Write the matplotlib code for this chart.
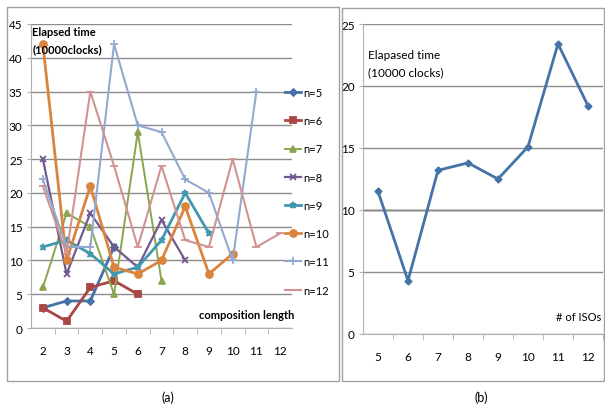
import matplotlib
matplotlib.use("Agg")
import matplotlib.pyplot as plt
from matplotlib.patches import Rectangle

# -----------------------------
# Data
# -----------------------------
comp_len = [2, 3, 4, 5, 6, 7, 8, 9, 10, 11, 12]
n5 = [3, 4, 4, 12]
n6 = [3, 1, 6, 7, 5]
n7 = [6, 17, 15, 5, 29, 7]
n8 = [25, 8, 17, 12, 9, 16, 10]
n9 = [12, 13, 11, 8, 9, 13, 20, 14]
n10 = [42, 10, 21, 9, 8, 10, 18, 8, 11]
n11 = [22, 12, 12, 42, 30, 29, 22, 20, 10, 35]
n12 = [21, 11, 35, 24, 12, 24, 13, 12, 25, 12, 14]
series_labels = ["n=5", "n=6", "n=7", "n=8", "n=9", "n=10", "n=11", "n=12"]
left_yticks = [0, 5, 10, 15, 20, 25, 30, 35, 40, 45]

num_isos = [5, 6, 7, 8, 9, 10, 11, 12]
iso_time = [11.5, 4.3, 13.2, 13.8, 12.5, 15.1, 23.4, 18.4]
right_yticks = [0, 5, 10, 15, 20, 25]

# -----------------------------
# Style
# -----------------------------
W, H = 605, 410
plt.rcParams["font.family"] = ["Liberation Sans Narrow", "Lato", "DejaVu Sans"]
TICK_FONT = 8.5
GRID = "#8c8c8c"

colors = ["#4572A7", "#AA4643", "#89A54E", "#71588F",
          "#4198AF", "#DB843D", "#93A9CF", "#D19392"]
markers = ["D", "s", "^", "x", "*", "o", "+", "_"]
msizes = [3.5, 4.5, 4, 4.5, 5, 5, 5.5, 5.5]
widths = [2.0, 2.0, 1.4, 1.6, 2.0, 2.0, 1.5, 1.5]


def px_axes(fig, x0, y0, x1, y1):
    # pixel box (top-left origin) -> figure axes
    return fig.add_axes([x0 / W, 1 - y1 / H, (x1 - x0) / W, (y1 - y0) / H])


def style_axes(ax, yticks):
    ax.set_yticks(yticks)
    ax.grid(axis="y", color=GRID, lw=1.0)
    ax.set_axisbelow(True)
    for s in ["top", "right"]:
        ax.spines[s].set_visible(False)
    ax.spines["left"].set_color("#b0b0b0")
    ax.spines["bottom"].set_color("#b0b0b0")
    ax.tick_params(axis="y", length=3, color="#b0b0b0", labelsize=TICK_FONT, pad=3)
    ax.tick_params(axis="x", length=0, labelsize=TICK_FONT, pad=12)


fig = plt.figure(figsize=(W / 100, H / 100), dpi=100)

# panel frames
fig.patches.append(Rectangle((7 / W, 1 - 382 / H), (339 - 7) / W, (382 - 8) / H,
                             transform=fig.transFigure, fill=False, ec="#a0a0a0", lw=1.0))
fig.patches.append(Rectangle((342 / W, 1 - 382 / H), (604 - 342) / W, (382 - 9) / H,
                             transform=fig.transFigure, fill=False, ec="#a0a0a0", lw=1.0))

# -----------------------------
# (a) elapsed time vs composition length
# -----------------------------
ax1 = px_axes(fig, 31, 25, 292, 329)
all_series = [n5, n6, n7, n8, n9, n10, n11, n12]
for vals, lab, c, m, ms, lw in zip(all_series, series_labels, colors, markers, msizes, widths):
    ax1.plot(comp_len[:len(vals)], vals, color=c, marker=m, ms=ms, lw=lw,
             mew=1.3, label=lab, clip_on=False)
ax1.set_xlim(1.5, 12.5)
ax1.set_ylim(0, 45)
ax1.set_xticks(comp_len)
style_axes(ax1, left_yticks)
ax1.set_xticks([x + 0.5 for x in comp_len[:-1]], minor=True)
ax1.tick_params(axis="x", which="minor", length=4, color="#b0b0b0")
ax1.text(0.005, 0.995, "Elapsed time\n(10000clocks)", transform=ax1.transAxes,
         fontsize=8, fontweight="bold", va="top", ha="left", linespacing=1.7)
ax1.text(12.6, 1.2, "composition length", fontsize=8, fontweight="bold",
         ha="right", va="bottom")
fig.legend(*ax1.get_legend_handles_labels(), loc="upper left",
           bbox_to_anchor=(285 / W, 1 - 88 / H), frameon=False,
           fontsize=8, labelspacing=1.55, handlelength=1.4, handletextpad=0.25,
           borderaxespad=0, borderpad=0)

# -----------------------------
# (b) elapsed time vs number of ISOs
# -----------------------------
ax2 = px_axes(fig, 363, 25, 603, 335)
ax2.plot(num_isos, iso_time, color=colors[0], marker="D", ms=3.5, lw=2.0)
ax2.set_xlim(4.5, 12.5)
ax2.set_ylim(0, 25)
ax2.set_xticks(num_isos)
style_axes(ax2, right_yticks)
ax2.set_xticks([x + 0.5 for x in num_isos], minor=True)
ax2.tick_params(axis="x", which="minor", length=4, color="#b0b0b0")
ax2.axhline(10, color="black", lw=1.0, zorder=0.5)
ax2.text(0.02, 0.92, "Elapased time\n(10000 clocks)", transform=ax2.transAxes,
         fontsize=8.5, va="top", ha="left", linespacing=1.7)
ax2.text(12.45, 1.0, "# of ISOs", fontsize=8, ha="right", va="bottom")

# captions
fig.text(168 / W, 1 - 398 / H, "(a)", fontsize=9, ha="center", va="center")
fig.text(481 / W, 1 - 398 / H, "(b)", fontsize=9, ha="center", va="center")

fig.savefig("out.png", dpi=100)
